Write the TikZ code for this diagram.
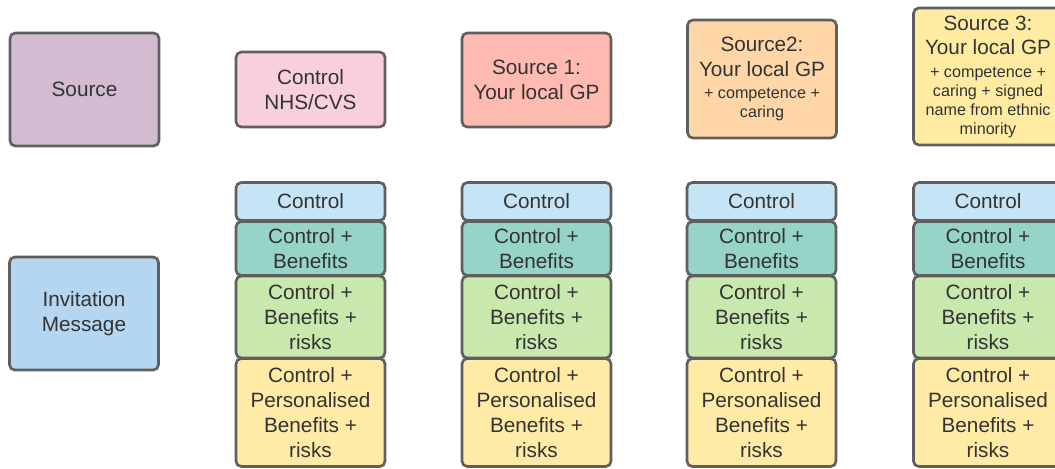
\documentclass[tikz,border=0pt]{standalone}
\usepackage{fontspec}
\setmainfont{Liberation Sans}
\usetikzlibrary{positioning}

\definecolor{boxline}{RGB}{95,95,95}
\definecolor{txtgray}{RGB}{51,51,51}
\definecolor{srcpurple}{RGB}{211,187,209}
\definecolor{invblue}{RGB}{180,214,240}
\definecolor{ctrlpink}{RGB}{248,208,221}
\definecolor{srcsalmon}{RGB}{255,186,177}
\definecolor{srcorange}{RGB}{255,214,168}
\definecolor{srcyellow}{RGB}{255,236,162}
\definecolor{msgblue}{RGB}{197,228,246}
\definecolor{msgteal}{RGB}{150,212,200}
\definecolor{msggreen}{RGB}{200,232,174}
\definecolor{msgyellow}{RGB}{255,234,166}

\newcommand{\smalltxt}{\fontsize{9.2}{10.8}\selectfont}

\begin{document}
\begin{tikzpicture}[x=0.02cm,y=-0.02cm,
    box/.style={rectangle,draw=boxline,line width=1.5pt,rounded corners=3pt,minimum width=2.98cm,align=center,text=txtgray,inner sep=1pt,font=\fontsize{11.8}{14.2}\selectfont},
    srcbox/.style={box,font=\fontsize{11.8}{10.8}\selectfont}
]
\useasboundingbox (0,0) rectangle (1055,468);
\clip (0,0) rectangle (1055,468);

% === Row labels ===
\node[box,fill=srcpurple,minimum height=2.26cm] (source) at (84.5,89.5) {Source};
\node[box,fill=invblue,minimum height=2.26cm] (invite) at (84,313.5) {Invitation\\Message};

% === Sources ===
\node[box,fill=ctrlpink,minimum height=1.5cm] (src0) at (310.5,89.5) {Control\\NHS/CVS};
\node[box,fill=srcsalmon,minimum height=1.88cm] (src1) at (536.5,80) {Source 1:\\Your local GP};
\node[srcbox,fill=srcorange,minimum height=2.36cm] (src2) at (762,79) {Source2:\\[3.2pt]Your local GP\\[2pt]\smalltxt + competence +\\\smalltxt caring};
\node[srcbox,fill=srcyellow,minimum height=2.74cm] (src3) at (988,76.5) {Source 3:\\[3.2pt]Your local GP\\[2pt]\smalltxt + competence +\\\smalltxt caring + signed\\\smalltxt name from ethnic\\\smalltxt minority};

% === Invitation messages ===
\foreach \cx/\n in {310.5/a,536.5/b,761.5/c,988/d} {
    \node[box,fill=msgblue,minimum height=0.76cm] (ctrl\n) at (\cx,201.5) {Control};
    \node[box,fill=msgteal,minimum height=1.08cm] (ben\n) at (\cx,248.5) {Control +\\Benefits};
    \node[box,fill=msggreen,minimum height=1.64cm] (risk\n) at (\cx,317) {Control +\\Benefits +\\risks};
    \node[box,fill=msgyellow,minimum height=2.16cm] (pers\n) at (\cx,412.5) {Control +\\Personalised\\Benefits +\\risks};
}

\end{tikzpicture}
\end{document}
